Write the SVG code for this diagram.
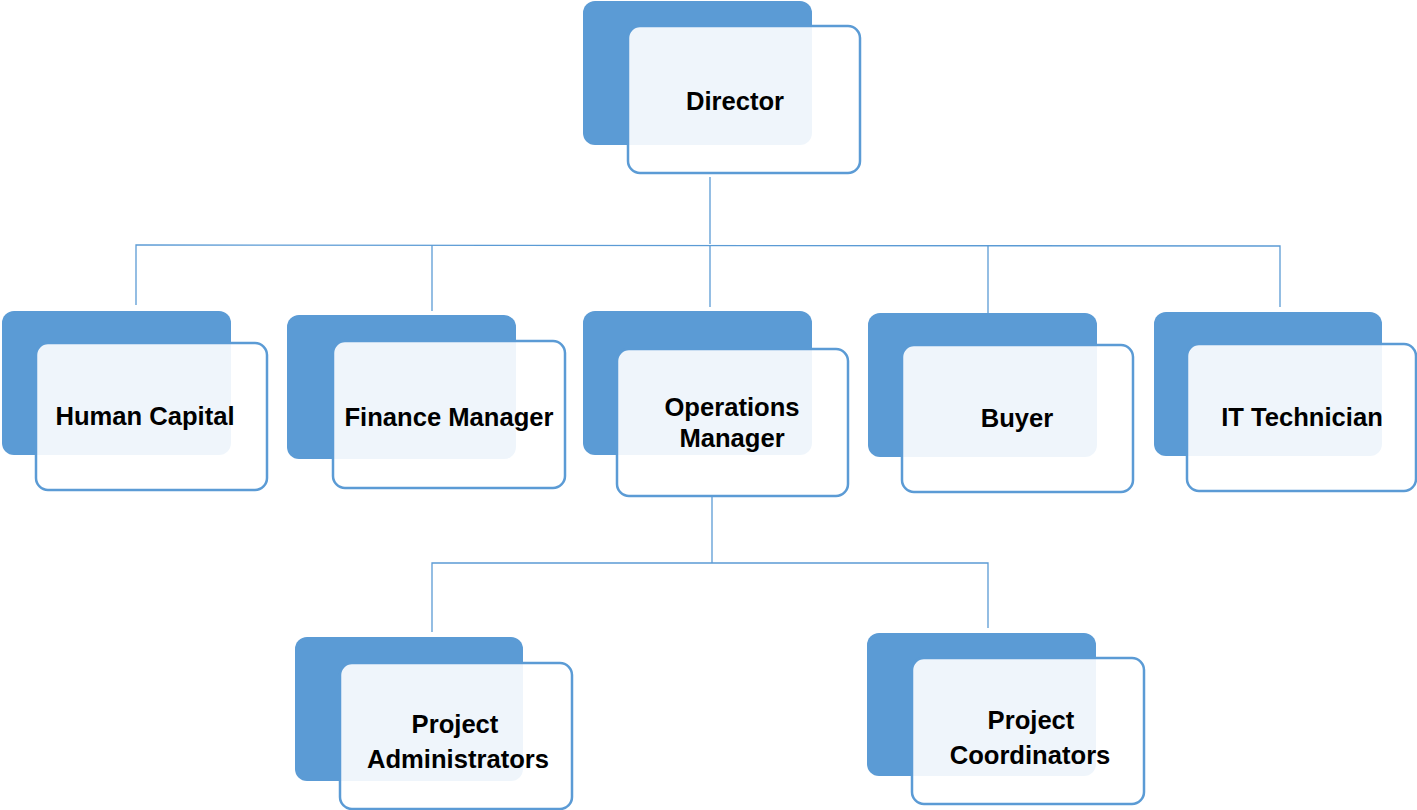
<svg xmlns="http://www.w3.org/2000/svg" width="1417" height="810" viewBox="0 0 1417 810">
<style>
.back{fill:#5B9BD5}
.front{fill:#FFFFFF;fill-opacity:0.9;stroke:#5B9BD5;stroke-width:2.5}
.lbl{font-family:"Liberation Sans",Arial,sans-serif;font-weight:bold;font-size:25.6px;fill:#000;text-anchor:middle}
.conn{fill:none;stroke:#5B9BD5;stroke-width:1.3}
</style>
<rect width="1417" height="810" fill="#FFFFFF"/>
<g id="connectors">
<polyline class="conn" points="710,177 710,244"/>
<polyline class="conn" points="136,305 136,245 1280,246 1280,307"/>
<polyline class="conn" points="432,311 432,245"/>
<polyline class="conn" points="710,307 710,245"/>
<polyline class="conn" points="988,313 988,246"/>
<polyline class="conn" points="712,497 712,563"/>
<polyline class="conn" points="432,632 432,563 988,563 988,628"/>
</g>
<g id="director">
<rect class="back" x="583" y="1" width="229" height="144" rx="12"/>
<rect class="front" x="628" y="26" width="232" height="147" rx="12"/>
<text class="lbl" x="735" y="110">Director</text>
</g>
<g id="human-capital">
<rect class="back" x="2" y="311" width="229" height="144" rx="12"/>
<rect class="front" x="36" y="343" width="231" height="147" rx="12"/>
<text class="lbl" x="145" y="425">Human Capital</text>
</g>
<g id="finance-manager">
<rect class="back" x="287" y="315" width="229" height="144" rx="12"/>
<rect class="front" x="333" y="341" width="232" height="147" rx="12"/>
<text class="lbl" x="449" y="426">Finance Manager</text>
</g>
<g id="operations-manager">
<rect class="back" x="583" y="311" width="229" height="144" rx="12"/>
<rect class="front" x="617" y="349" width="231" height="147" rx="12"/>
<text class="lbl" x="732" y="416">Operations</text>
<text class="lbl" x="732" y="447">Manager</text>
</g>
<g id="buyer">
<rect class="back" x="868" y="313" width="229" height="144" rx="12"/>
<rect class="front" x="902" y="345" width="231" height="147" rx="12"/>
<text class="lbl" x="1017" y="427">Buyer</text>
</g>
<g id="it-technician">
<rect class="back" x="1154" y="312" width="228" height="144" rx="12"/>
<rect class="front" x="1187" y="344" width="229" height="147" rx="12"/>
<text class="lbl" x="1302" y="426">IT Technician</text>
</g>
<g id="project-administrators">
<rect class="back" x="295" y="637" width="228" height="144" rx="12"/>
<rect class="front" x="340" y="663" width="232" height="146" rx="12"/>
<text class="lbl" x="455" y="733">Project</text>
<text class="lbl" x="458" y="768">Administrators</text>
</g>
<g id="project-coordinators">
<rect class="back" x="867" y="633" width="229" height="143" rx="12"/>
<rect class="front" x="912" y="658" width="232" height="146" rx="12"/>
<text class="lbl" x="1031" y="729">Project</text>
<text class="lbl" x="1030" y="764">Coordinators</text>
</g>
</svg>
